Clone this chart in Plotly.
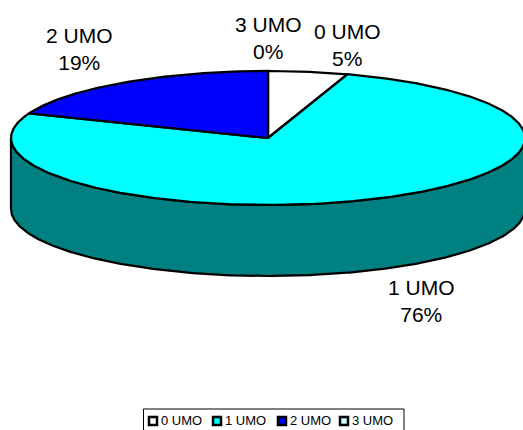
import math
import plotly.graph_objects as go

categories = ["0 UMO", "1 UMO", "2 UMO", "3 UMO"]
percentages = [5, 76, 19, 0]
top_colors = ["#ffffff", "#00ffff", "#0000ff", "#ccffff"]
side_colors = ["#808080", "#008080", "#000080", "#669999"]

WIDTH, HEIGHT = 523, 430
CX, CY = 268, 138      # centre of the pie's top face
RX, RY = 257, 67       # radii of the tilted face
DEPTH = 71             # thickness of the disc
STEP = 0.5             # degrees between outline samples
EDGE = dict(color="#000000", width=2.25)
FONT = "Liberation Sans, Arial, sans-serif"


def rim(angle, drop=0):
    """Point on the rim; angle runs clockwise from twelve o'clock."""
    rad = math.radians(angle)
    return CX + RX * math.sin(rad), CY - RY * math.cos(rad) + drop


def sweep(a, b):
    n = max(1, int(abs(b - a) / STEP))
    return [a + (b - a) * i / n for i in range(n + 1)]


fig = go.Figure()

# Slice extents in degrees
total = sum(percentages)
spans = []
start = 0.0
for p in percentages:
    end = start + 360.0 * p / total
    spans.append((start, end))
    start = end

# Outer wall: only the part of each slice facing the viewer (90 to 270 degrees)
for (a, b), color in zip(spans, side_colors):
    lo, hi = max(a, 90), min(b, 270)
    if hi <= lo:
        continue
    angles = sweep(lo, hi)
    upper = [rim(t) for t in angles]
    lower = [rim(t, DEPTH) for t in reversed(angles)]
    pts = upper + lower + upper[:1]
    fig.add_trace(go.Scatter(
        x=[p[0] for p in pts], y=[p[1] for p in pts],
        mode="lines", fill="toself", fillcolor=color, line=EDGE,
        hoverinfo="skip", showlegend=False,
    ))

# Top face
for (a, b), color, name in zip(spans, top_colors, categories):
    pts = [(CX, CY)] + [rim(t) for t in sweep(a, b)] + [(CX, CY)]
    fig.add_trace(go.Scatter(
        x=[p[0] for p in pts], y=[p[1] for p in pts],
        mode="lines", fill="toself", fillcolor=color, line=EDGE,
        name=name, showlegend=False,
    ))

# Slice labels
label_anchors = [(347.5, 45), (421, 301), (79.5, 49), (268, 38)]
for (x, y), name, p in zip(label_anchors, categories, percentages):
    fig.add_annotation(
        x=x, y=y, text=f"{name}<br>{p}%", showarrow=False,
        font=dict(family=FONT, size=21, color="#000000"), align="center",
    )

# Legend row inside a framed box whose lower edge runs off the page
legend_x = [153, 217, 282, 344]
legend_y = 421
legend_text_gap = 8
fig.add_shape(type="rect", x0=143.5, x1=404, y0=409, y1=440, layer="below",
              line=dict(color="#000000", width=1), fillcolor="#ffffff")
fig.add_trace(go.Scatter(
    x=legend_x, y=[legend_y] * len(categories),
    mode="markers",
    marker=dict(symbol="square", size=8, color=top_colors,
                line=dict(color="#000000", width=2.5)),
    hoverinfo="skip", showlegend=False,
))
fig.add_trace(go.Scatter(
    x=[x + legend_text_gap for x in legend_x],
    y=[legend_y + 1] * len(categories),
    mode="text", text=categories, textposition="middle right",
    textfont=dict(family=FONT, size=13, color="#000000"),
    hoverinfo="skip", showlegend=False,
))

fig.update_layout(
    width=WIDTH, height=HEIGHT,
    margin=dict(l=0, r=0, t=0, b=0),
    paper_bgcolor="#ffffff", plot_bgcolor="#ffffff",
    showlegend=False,
    xaxis=dict(range=[0, WIDTH], visible=False, fixedrange=True),
    yaxis=dict(range=[HEIGHT, 0], visible=False, fixedrange=True),
)

fig.write_html("out.html", config=dict(displayModeBar=False))
